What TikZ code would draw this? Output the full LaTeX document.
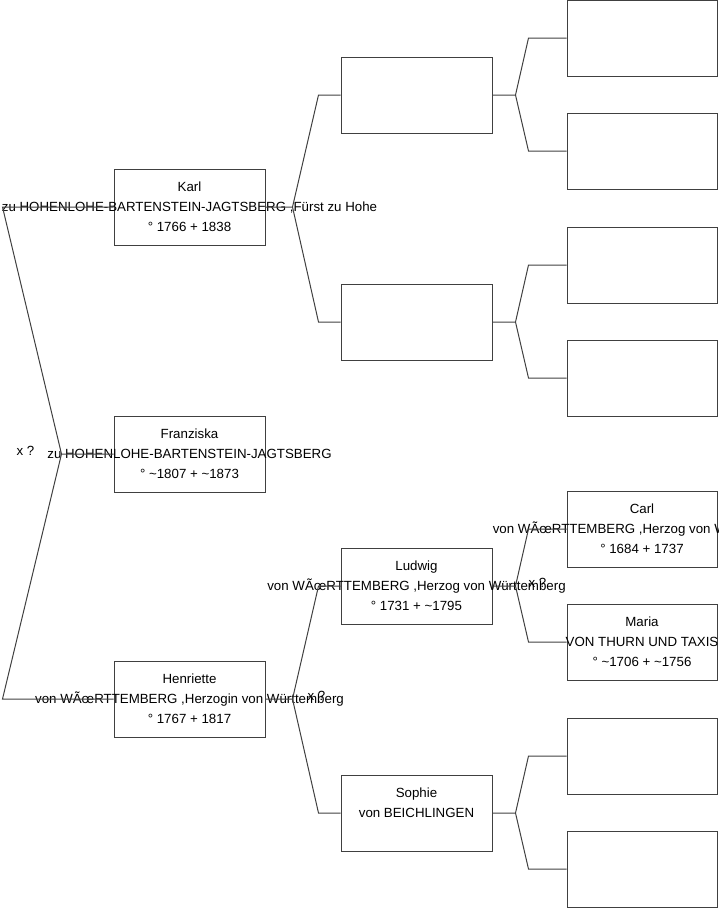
\documentclass[tikz,border=0pt]{standalone}
\usepackage{fontspec}
\setmainfont{Liberation Sans}
\usepackage{tikz}
\usetikzlibrary{positioning}

\definecolor{linegray}{HTML}{404040}
\newcommand{\pers}[3]{\makebox[0pt]{#1}\\\makebox[0pt]{#2}\\\makebox[0pt]{#3}}

\begin{document}
\begin{tikzpicture}[
    x=1pt, y=-1pt,
    person/.style={draw=linegray, line width=1pt, minimum width=151pt, minimum height=76pt,
                   inner sep=0pt, align=center, font=\fontsize{13.3}{20}\selectfont},
    link/.style={draw=linegray, line width=1pt},
    marriage/.style={inner sep=0pt, font=\fontsize{13.3}{15}\selectfont}
]
\useasboundingbox (0,0) rectangle (719,908);

% generation 1
\node[person] (karl)      at (189.5,207) {\pers{Karl}{zu HOHENLOHE-BARTENSTEIN-JAGTSBERG ,Fürst zu Hohe}{° 1766 + 1838}};
\node[person] (franziska) at (189.5,454) {\pers{Franziska}{zu HOHENLOHE-BARTENSTEIN-JAGTSBERG}{° \textasciitilde 1807 + \textasciitilde 1873}};
\node[person] (henriette) at (189.5,699) {\pers{Henriette}{von WÃœRTTEMBERG ,Herzogin von Württemberg}{° 1767 + 1817}};

% generation 2
\node[person] (karlfa) at (416.5,95)  {};
\node[person] (karlmo) at (416.5,322) {};
\node[person] (ludwig) at (416.5,586) {\pers{Ludwig}{von WÃœRTTEMBERG ,Herzog von Württemberg}{° 1731 + \textasciitilde 1795}};
\node[person] (sophie) at (416.5,813) {\pers{Sophie}{von BEICHLINGEN}{}};

% generation 3
\node[person, minimum width=150pt] (kffa)  at (642,38)  {};
\node[person, minimum width=150pt] (kfmo)  at (642,151) {};
\node[person, minimum width=150pt] (kmfa)  at (642,265) {};
\node[person, minimum width=150pt] (kmmo)  at (642,378) {};
\node[person, minimum width=150pt] (carl)  at (642,529) {\pers{Carl}{von WÃœRTTEMBERG ,Herzog von Württemberg}{° 1684 + 1737}};
\node[person, minimum width=150pt] (maria) at (642,642) {\pers{Maria}{VON THURN UND TAXIS}{° \textasciitilde 1706 + \textasciitilde 1756}};
\node[person, minimum width=150pt] (sofa)  at (642,756) {};
\node[person, minimum width=150pt] (somo)  at (642,869) {};

% parents of Franziska
\draw[link] (franziska.west) -- ++(-52,0) coordinate (franfork) -- ([xshift=-111pt]karl.west) -- (karl.west);
\draw[link] (franfork) -- ([xshift=-111pt]henriette.west) -- (henriette.west);
\node[marriage] (xfran) at ([xshift=-36pt,yshift=3pt]franfork) {x ?};

% parents of Karl and Henriette
\draw[link] (karl.east) -- ++(27,0) coordinate (karlfork) -- ([xshift=-22pt]karlfa.west) -- (karlfa.west);
\draw[link] (karlfork) -- ([xshift=-22pt]karlmo.west) -- (karlmo.west);
\draw[link] (henriette.east) -- ++(27,0) coordinate (henrfork) -- ([xshift=-22pt]ludwig.west) -- (ludwig.west);
\draw[link] (henrfork) -- ([xshift=-22pt]sophie.west) -- (sophie.west);
\node[marriage] (xhenr) at ([xshift=24pt,yshift=3pt]henrfork) {x ?};

% generation 3 links
\draw[link] (karlfa.east) -- ++(23,0) coordinate (kffork) -- ([xshift=-38pt]kffa.west) -- (kffa.west);
\draw[link] (kffork) -- ([xshift=-38pt]kfmo.west) -- (kfmo.west);
\draw[link] (karlmo.east) -- ++(23,0) coordinate (kmfork) -- ([xshift=-38pt]kmfa.west) -- (kmfa.west);
\draw[link] (kmfork) -- ([xshift=-38pt]kmmo.west) -- (kmmo.west);
\draw[link] (ludwig.east) -- ++(23,0) coordinate (ludfork) -- ([xshift=-38pt]carl.west) -- (carl.west);
\draw[link] (ludfork) -- ([xshift=-38pt]maria.west) -- (maria.west);
\node[marriage] (xlud) at ([xshift=22pt,yshift=3pt]ludfork) {x ?};
\draw[link] (sophie.east) -- ++(23,0) coordinate (sofork) -- ([xshift=-38pt]sofa.west) -- (sofa.west);
\draw[link] (sofork) -- ([xshift=-38pt]somo.west) -- (somo.west);
\end{tikzpicture}
\end{document}
